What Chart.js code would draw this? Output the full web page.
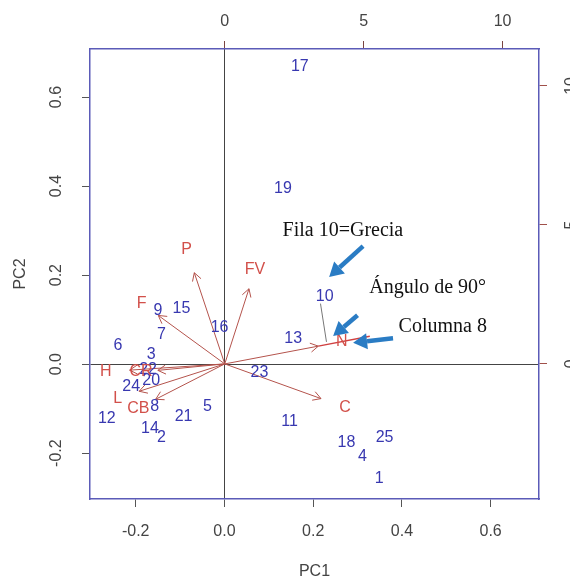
<!DOCTYPE html>
<html>
<head>
<meta charset="utf-8">
<script src="https://cdn.jsdelivr.net/npm/chart.js@4.4.1/dist/chart.umd.min.js"></script>
<style>
body { margin: 0; background: #fff; }
</style>
</head>
<body>
<canvas id="biplot" width="570" height="581"></canvas>
<script>
// paises (filas 1..25), puntuaciones PC1 / PC2
const obsLabels = ['1', '2', '3', '4', '5', '6', '7', '8', '9', '10', '11', '12', '13',
    '14', '15', '16', '17', '18', '19', '20', '21', '22', '23', '24', '25'];
const obsPC1 = [0.349, -0.142, -0.165, 0.311, -0.038, -0.240, -0.142, -0.157, -0.150, 0.226,
    0.147, -0.265, 0.155, -0.168, -0.097, -0.011, 0.170, 0.275, 0.132, -0.165,
    -0.092, -0.172, 0.079, -0.210, 0.361];
const obsPC2 = [-0.257, -0.165, 0.022, -0.207, -0.096, 0.041, 0.067, -0.096, 0.121, 0.151,
    -0.130, -0.122, 0.058, -0.144, 0.125, 0.081, 0.668, -0.177, 0.395, -0.036,
    -0.118, -0.013, -0.020, -0.051, -0.165];

// variables (columnas), cargas en la escala de arriba / derecha
const varLabels = ['CR', 'CB', 'H', 'L', 'P', 'C', 'F', 'N', 'FV'];
const varPC1 = [-3.01, -3.11, -4.28, -3.85, -1.37, 4.33, -2.99, 4.21, 1.09];
const varPC2 = [-0.29, -1.59, -0.28, -1.23, 4.10, -1.56, 2.18, 0.80, 3.38];

// ticks
const pcTicks = [-0.2, 0.0, 0.2, 0.4, 0.6];
const loadTicks = [0, 5, 10];

// notas añadidas sobre el grafico (en unidades PC1 / PC2)
const noteTexts = ['Fila 10=Grecia', 'Ángulo de 90°', 'Columna 8'];
const noteX = [0.267, 0.458, 0.492];
const noteY = [0.299, 0.172, 0.084];
const blueFrom = [[0.3125, 0.265], [0.300, 0.110], [0.380, 0.058]];
const blueTo = [[0.236, 0.196], [0.245, 0.063], [0.290, 0.048]];
const projFrom = [0.2165, 0.136];
const projTo = [0.230, 0.050];

const obsColor = '#3838b0';
const varColor = '#b4534c';
const varText = '#d2504a';
const boxColor = '#5b5bb8';
const ARROW_SCALE = 0.8; // como biplot() de R
const N_EXTEND = 1.24;

const arrowSets = varLabels.map((lab, i) => ({
    label: lab,
    data: [{x: 0, y: 0}, {x: varPC1[i] * ARROW_SCALE, y: varPC2[i] * ARROW_SCALE}],
    xAxisID: 'x2',
    yAxisID: 'y2',
    showLine: true,
    borderColor: varColor,
    borderWidth: 1,
    pointRadius: 0
}));

const iN = varLabels.indexOf('N');
arrowSets.push({
    label: 'N ext',
    data: [{x: varPC1[iN] * ARROW_SCALE, y: varPC2[iN] * ARROW_SCALE},
        {x: varPC1[iN] * N_EXTEND, y: varPC2[iN] * N_EXTEND}],
    xAxisID: 'x2',
    yAxisID: 'y2',
    showLine: true,
    borderColor: '#d04040',
    borderWidth: 1.5,
    pointRadius: 0
});

const data = {
    datasets: [{
        label: 'obs',
        data: obsPC1.map((v, i) => ({x: v, y: obsPC2[i]})),
        pointRadius: 0,
        xAxisID: 'x',
        yAxisID: 'y'
    }, {
        label: 'proy',
        data: [{x: projFrom[0], y: projFrom[1]}, {x: projTo[0], y: projTo[1]}],
        showLine: true,
        borderColor: '#777',
        borderWidth: 1,
        pointRadius: 0,
        xAxisID: 'x',
        yAxisID: 'y'
    }].concat(arrowSets)
};

function vHead(ctx, x0, y0, x1, y1, len) {
    const a = Math.atan2(y1 - y0, x1 - x0);
    ctx.beginPath();
    ctx.moveTo(x1 - len * Math.cos(a - Math.PI / 6), y1 - len * Math.sin(a - Math.PI / 6));
    ctx.lineTo(x1, y1);
    ctx.lineTo(x1 - len * Math.cos(a + Math.PI / 6), y1 - len * Math.sin(a + Math.PI / 6));
    ctx.stroke();
}

function blueArrow(ctx, x0, y0, x1, y1) {
    const a = Math.atan2(y1 - y0, x1 - x0);
    const hl = 14, hw = 8;
    const bx = x1 - hl * Math.cos(a), by = y1 - hl * Math.sin(a);
    ctx.beginPath();
    ctx.moveTo(x0, y0);
    ctx.lineTo(bx, by);
    ctx.stroke();
    ctx.beginPath();
    ctx.moveTo(x1, y1);
    ctx.lineTo(bx + hw * Math.sin(a), by - hw * Math.cos(a));
    ctx.lineTo(bx - hw * Math.sin(a), by + hw * Math.cos(a));
    ctx.closePath();
    ctx.fill();
}

const overlay = {
    id: 'overlay',
    afterDatasetsDraw(chart) {
        const {ctx} = chart;
        const {x, y, x2, y2} = chart.scales;
        ctx.save();

        // puntas de flecha
        ctx.strokeStyle = varColor;
        ctx.lineWidth = 1;
        varLabels.forEach((lab, i) => {
            vHead(ctx, x2.getPixelForValue(0), y2.getPixelForValue(0),
                x2.getPixelForValue(varPC1[i] * ARROW_SCALE), y2.getPixelForValue(varPC2[i] * ARROW_SCALE), 9);
        });

        ctx.textAlign = 'center';
        ctx.textBaseline = 'middle';
        ctx.font = '16px "Liberation Sans", Arial, sans-serif';

        // etiquetas de las filas
        ctx.fillStyle = obsColor;
        obsLabels.forEach((lab, i) => {
            ctx.fillText(lab, x.getPixelForValue(obsPC1[i]), y.getPixelForValue(obsPC2[i]));
        });

        // etiquetas de las variables
        ctx.fillStyle = varText;
        varLabels.forEach((lab, i) => {
            ctx.fillText(lab, x2.getPixelForValue(varPC1[i]), y2.getPixelForValue(varPC2[i]));
        });

        // flechas azules
        ctx.strokeStyle = '#2a7cc4';
        ctx.fillStyle = '#2a7cc4';
        ctx.lineWidth = 4.5;
        blueFrom.forEach((p, i) => {
            blueArrow(ctx, x.getPixelForValue(p[0]), y.getPixelForValue(p[1]),
                x.getPixelForValue(blueTo[i][0]), y.getPixelForValue(blueTo[i][1]));
        });

        // textos
        ctx.fillStyle = '#111';
        ctx.font = '20px "Liberation Serif", "Times New Roman", serif';
        noteTexts.forEach((t, i) => {
            ctx.fillText(t, x.getPixelForValue(noteX[i]), y.getPixelForValue(noteY[i]));
        });

        // ticks girados de los ejes izquierdo y derecho
        ctx.font = '16px "Liberation Sans", Arial, sans-serif';
        ctx.fillStyle = '#444';
        pcTicks.forEach(v => {
            ctx.save();
            ctx.translate(57, y.getPixelForValue(v));
            ctx.rotate(-Math.PI / 2);
            ctx.fillText(v.toFixed(1), 0, 0);
            ctx.restore();
        });
        loadTicks.forEach(v => {
            ctx.save();
            ctx.translate(572, y2.getPixelForValue(v));
            ctx.rotate(-Math.PI / 2);
            ctx.fillText(String(v), 0, 0);
            ctx.restore();
        });
        ctx.restore();
    }
};

const zeroGrid = c => (c.tick && Math.abs(c.tick.value) < 1e-9) ? '#444' : 'rgba(0,0,0,0)';
const tickFont = {family: '"Liberation Sans", Arial, sans-serif', size: 16};

const config = {
    type: 'scatter',
    data: data,
    options: {
        responsive: false,
        animation: false,
        layout: {padding: 0},
        plugins: {
            legend: {display: false},
            tooltip: {enabled: false}
        },
        scales: {
            x: {
                type: 'linear',
                position: 'bottom',
                min: -0.303,
                max: 0.709,
                afterFit: s => { s.height = 82; },
                border: {color: boxColor, width: 1.5},
                grid: {color: zeroGrid, tickColor: '#555', tickLength: 8, lineWidth: 1},
                ticks: {
                    stepSize: 0.2, includeBounds: false, padding: 15, color: '#444', font: tickFont,
                    callback: v => v.toFixed(1), maxRotation: 0
                },
                title: {display: true, text: 'PC1', color: '#444', font: tickFont, padding: {top: 0, bottom: 0}}
            },
            y: {
                type: 'linear',
                position: 'left',
                min: -0.303,
                max: 0.708,
                afterFit: s => { s.width = 90; },
                border: {color: boxColor, width: 1.5},
                grid: {color: zeroGrid, tickColor: '#555', tickLength: 8, lineWidth: 1},
                ticks: {stepSize: 0.2, includeBounds: false, color: 'rgba(0,0,0,0)', font: tickFont},
                title: {display: true, text: 'PC2', color: '#444', font: tickFont, padding: {top: 11, bottom: 0}}
            },
            x2: {
                type: 'linear',
                position: 'top',
                min: -4.85,
                max: 11.31,
                afterFit: s => { s.height = 49; },
                border: {color: boxColor, width: 1.5},
                grid: {drawOnChartArea: false, tickColor: '#7a4440', tickLength: 8},
                ticks: {stepSize: 5, includeBounds: false, padding: 10, color: '#444', font: tickFont, maxRotation: 0}
            },
            y2: {
                type: 'linear',
                position: 'right',
                min: -4.86,
                max: 11.33,
                afterFit: s => { s.width = 31; },
                border: {color: boxColor, width: 1.5},
                grid: {drawOnChartArea: false, tickColor: '#a0504a', tickLength: 8},
                ticks: {stepSize: 5, includeBounds: false, color: 'rgba(0,0,0,0)', font: tickFont}
            }
        }
    },
    plugins: [overlay]
};

const biplot = new Chart(document.getElementById('biplot'), config);
</script>
</body>
</html>
